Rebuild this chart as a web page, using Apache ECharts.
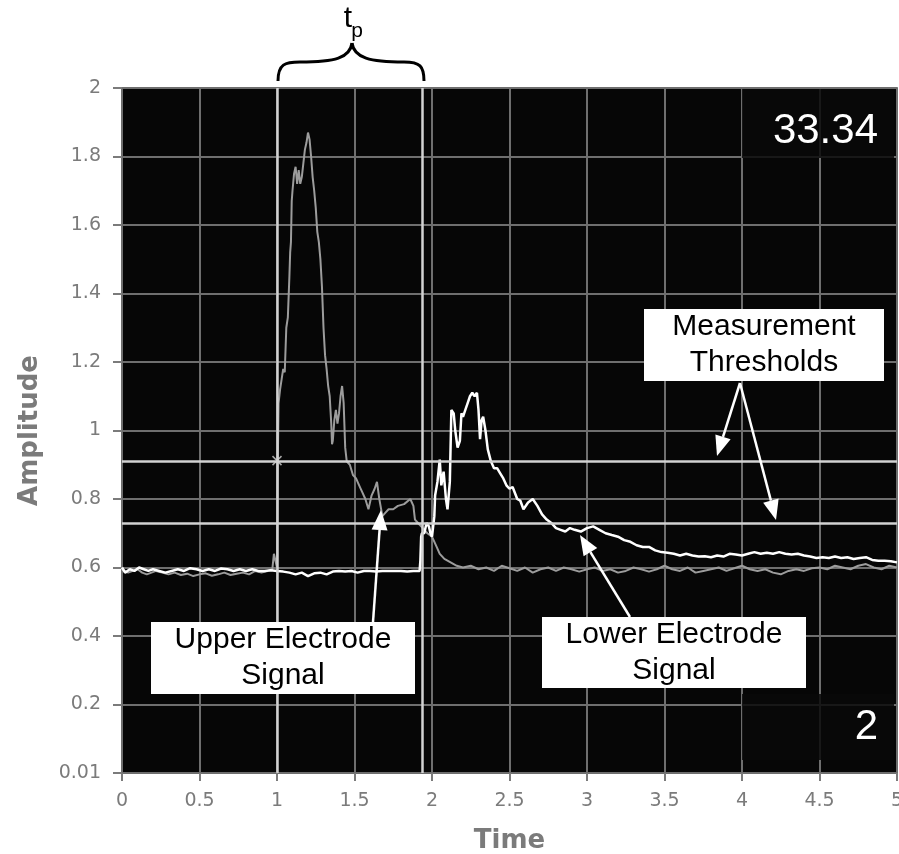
<!DOCTYPE html>
<html>
<head>
<meta charset="utf-8">
<script src="https://cdn.jsdelivr.net/npm/echarts@6/dist/echarts.min.js"></script>
<style>
  html, body { margin: 0; padding: 0; background: #fff; }
  #chart { width: 899px; height: 854px; }
</style>
</head>
<body>
<div id="chart"></div>
<script>
// upper electrode trace [time, amplitude]
const upperSignal = [
  [0, 0.595], [0.02, 0.59], [0.04, 0.585], [0.07, 0.59], [0.10, 0.595], [0.13, 0.585],
  [0.16, 0.58], [0.19, 0.585], [0.22, 0.59], [0.26, 0.585], [0.30, 0.58], [0.34, 0.585],
  [0.38, 0.578], [0.42, 0.582], [0.46, 0.575], [0.50, 0.58], [0.54, 0.583], [0.58, 0.576],
  [0.62, 0.58], [0.66, 0.585], [0.70, 0.578], [0.74, 0.582], [0.78, 0.585], [0.82, 0.58],
  [0.86, 0.59], [0.90, 0.585], [0.94, 0.59], [0.97, 0.595], [0.98, 0.64], [0.99, 0.64],
  [1.00, 0.60], [1.005, 0.9], [1.01, 1.08], [1.02, 1.12], [1.03, 1.15], [1.04, 1.18],
  [1.05, 1.17], [1.06, 1.30], [1.07, 1.33], [1.08, 1.45], [1.085, 1.52], [1.09, 1.55],
  [1.095, 1.67], [1.10, 1.70], [1.11, 1.75], [1.12, 1.77], [1.13, 1.72], [1.14, 1.76],
  [1.15, 1.72], [1.16, 1.74], [1.17, 1.78], [1.18, 1.82], [1.19, 1.84], [1.20, 1.87],
  [1.21, 1.85], [1.22, 1.80], [1.23, 1.74], [1.24, 1.70], [1.25, 1.65], [1.26, 1.58],
  [1.27, 1.55], [1.28, 1.50], [1.29, 1.42], [1.30, 1.30], [1.31, 1.22], [1.32, 1.18],
  [1.33, 1.13], [1.34, 1.10], [1.35, 1.02], [1.355, 0.96], [1.36, 0.97], [1.37, 1.03],
  [1.38, 1.06], [1.39, 1.02], [1.40, 1.05], [1.41, 1.10], [1.42, 1.13], [1.43, 1.08],
  [1.44, 0.95], [1.45, 0.91], [1.47, 0.90], [1.49, 0.87], [1.51, 0.86], [1.53, 0.84],
  [1.55, 0.82], [1.57, 0.80], [1.59, 0.77], [1.61, 0.81], [1.63, 0.83], [1.645, 0.85],
  [1.66, 0.80], [1.68, 0.75], [1.70, 0.76], [1.72, 0.77], [1.75, 0.77], [1.78, 0.78],
  [1.82, 0.785], [1.86, 0.80], [1.88, 0.78], [1.89, 0.74], [1.91, 0.73], [1.93, 0.72],
  [1.95, 0.71], [1.97, 0.70], [2.00, 0.69], [2.03, 0.66], [2.05, 0.64], [2.08, 0.625],
  [2.12, 0.615], [2.16, 0.605], [2.20, 0.60], [2.25, 0.605], [2.30, 0.595], [2.35, 0.60],
  [2.40, 0.59], [2.45, 0.605], [2.50, 0.598], [2.55, 0.59], [2.60, 0.60], [2.65, 0.585],
  [2.70, 0.595], [2.75, 0.60], [2.80, 0.59], [2.85, 0.60], [2.90, 0.595], [2.95, 0.588],
  [3.00, 0.595], [3.05, 0.60], [3.10, 0.59], [3.15, 0.595], [3.20, 0.585], [3.25, 0.59],
  [3.30, 0.60], [3.35, 0.595], [3.40, 0.588], [3.45, 0.595], [3.50, 0.605], [3.55, 0.595],
  [3.60, 0.59], [3.65, 0.60], [3.70, 0.585], [3.75, 0.59], [3.80, 0.595], [3.85, 0.60],
  [3.90, 0.59], [3.95, 0.598], [4.00, 0.605], [4.05, 0.595], [4.10, 0.59], [4.15, 0.595],
  [4.20, 0.585], [4.25, 0.58], [4.30, 0.59], [4.35, 0.595], [4.40, 0.59], [4.45, 0.598],
  [4.50, 0.60], [4.55, 0.595], [4.60, 0.605], [4.65, 0.60], [4.70, 0.595], [4.75, 0.605],
  [4.80, 0.61], [4.85, 0.60], [4.90, 0.595], [4.95, 0.605], [5.00, 0.60]
];

// lower electrode trace [time, amplitude]
const lowerSignal = [
  [0, 0.60], [0.02, 0.585], [0.05, 0.595], [0.08, 0.59], [0.11, 0.60], [0.14, 0.595],
  [0.17, 0.59], [0.20, 0.595], [0.24, 0.59], [0.28, 0.585], [0.32, 0.59], [0.36, 0.595],
  [0.40, 0.59], [0.44, 0.598], [0.48, 0.595], [0.52, 0.59], [0.56, 0.595], [0.60, 0.59],
  [0.64, 0.597], [0.68, 0.595], [0.72, 0.59], [0.76, 0.595], [0.80, 0.59], [0.84, 0.595],
  [0.88, 0.59], [0.92, 0.59], [0.96, 0.592], [1.00, 0.59], [1.04, 0.588], [1.08, 0.585],
  [1.12, 0.58], [1.16, 0.585], [1.20, 0.575], [1.24, 0.583], [1.28, 0.585], [1.32, 0.58],
  [1.36, 0.588], [1.40, 0.59], [1.44, 0.588], [1.48, 0.59], [1.52, 0.585], [1.56, 0.59],
  [1.60, 0.59], [1.64, 0.588], [1.68, 0.59], [1.72, 0.59], [1.76, 0.59], [1.80, 0.59],
  [1.84, 0.588], [1.88, 0.59], [1.92, 0.59], [1.925, 0.62], [1.93, 0.69], [1.935, 0.70],
  [1.95, 0.70], [1.965, 0.73], [1.98, 0.72], [1.99, 0.70], [2.00, 0.69], [2.015, 0.75],
  [2.02, 0.81], [2.035, 0.85], [2.05, 0.915], [2.06, 0.84], [2.075, 0.88], [2.09, 0.80],
  [2.10, 0.77], [2.115, 0.85], [2.125, 1.06], [2.14, 1.05], [2.15, 1.00], [2.165, 0.95],
  [2.18, 0.97], [2.19, 1.05], [2.20, 1.04], [2.215, 1.06], [2.23, 1.08], [2.245, 1.10],
  [2.26, 1.11], [2.275, 1.10], [2.29, 1.11], [2.30, 1.06], [2.31, 0.975], [2.32, 1.03],
  [2.33, 1.04], [2.345, 1.00], [2.36, 0.945], [2.38, 0.91], [2.40, 0.89], [2.42, 0.89],
  [2.44, 0.875], [2.46, 0.86], [2.48, 0.84], [2.50, 0.83], [2.52, 0.835], [2.55, 0.80],
  [2.57, 0.795], [2.59, 0.77], [2.62, 0.79], [2.65, 0.80], [2.68, 0.78], [2.71, 0.755],
  [2.74, 0.74], [2.77, 0.73], [2.80, 0.715], [2.83, 0.71], [2.86, 0.705], [2.89, 0.715],
  [2.92, 0.71], [2.96, 0.705], [3.00, 0.715], [3.04, 0.72], [3.08, 0.71], [3.12, 0.70],
  [3.16, 0.695], [3.20, 0.69], [3.24, 0.68], [3.28, 0.675], [3.32, 0.665], [3.36, 0.66],
  [3.40, 0.66], [3.44, 0.65], [3.48, 0.645], [3.52, 0.643], [3.56, 0.64], [3.60, 0.635],
  [3.64, 0.64], [3.68, 0.635], [3.72, 0.632], [3.76, 0.633], [3.80, 0.63], [3.84, 0.635],
  [3.88, 0.632], [3.92, 0.64], [3.96, 0.638], [4.00, 0.635], [4.04, 0.64], [4.08, 0.645],
  [4.12, 0.64], [4.16, 0.643], [4.20, 0.64], [4.24, 0.645], [4.28, 0.64], [4.32, 0.638],
  [4.36, 0.64], [4.40, 0.635], [4.44, 0.632], [4.48, 0.628], [4.52, 0.63], [4.56, 0.628],
  [4.60, 0.632], [4.64, 0.628], [4.68, 0.63], [4.72, 0.625], [4.76, 0.628], [4.80, 0.63],
  [4.84, 0.622], [4.88, 0.62], [4.92, 0.62], [4.96, 0.618], [5.00, 0.615]
];

const thresholds = [0.912, 0.731];     // horizontal measurement thresholds
const cursorTimes = [1.0, 1.94];       // vertical cursors bounding t_p
const crossing = [[1.0, 0.912]];       // x marker where upper signal crosses
const topValue = '33.34';
const bottomValue = '2';
const yBottomLabel = '0.01';

const chart = echarts.init(document.getElementById('chart'));

const tickFont = { color: '#7b7b7b', fontSize: 19, fontFamily: 'DejaVu Sans' };
const nameFont = { color: '#7b7b7b', fontSize: 26, fontWeight: 'bold', fontFamily: 'DejaVu Sans' };
const annoFont = '30px "Liberation Sans", Arial, sans-serif';

// arrow = shaft + filled head
function arrow(x1, y1, x2, y2) {
  const dx = x2 - x1, dy = y2 - y1;
  const len = Math.sqrt(dx * dx + dy * dy);
  const ux = dx / len, uy = dy / len;
  const L = 20, W = 8;
  const bx = x2 - ux * L, by = y2 - uy * L;
  return [
    { type: 'line', z: 100, shape: { x1: x1, y1: y1, x2: bx, y2: by },
      style: { stroke: '#fff', lineWidth: 2.5 } },
    { type: 'polygon', z: 100,
      shape: { points: [[x2, y2], [bx - uy * W, by + ux * W], [bx + uy * W, by - ux * W]] },
      style: { fill: '#fff' } }
  ];
}

function labelBox(x, y, w, h, lines) {
  const els = [{ type: 'rect', z: 100, shape: { x: x, y: y, width: w, height: h }, style: { fill: '#fff' } }];
  lines.forEach((t, i) => {
    els.push({ type: 'text', z: 101, x: x + w / 2, y: y + 18 + i * 36,
      style: { text: t, font: annoFont, fill: '#000', textAlign: 'center', textVerticalAlign: 'middle' } });
  });
  return els;
}

let graphics = [
  // readout boxes
  { type: 'rect', z: 90, shape: { x: 742, y: 89, width: 152, height: 69 }, style: { fill: 'rgba(9,9,9,0.85)' } },
  { type: 'text', z: 91, x: 878, y: 131,
    style: { text: topValue, font: '42px "Liberation Sans", sans-serif', fill: '#fff', textAlign: 'right', textVerticalAlign: 'middle' } },
  { type: 'rect', z: 90, shape: { x: 742, y: 694, width: 152, height: 66 }, style: { fill: 'rgba(9,9,9,0.85)' } },
  { type: 'text', z: 91, x: 878, y: 727,
    style: { text: bottomValue, font: '42px "Liberation Sans", sans-serif', fill: '#fff', textAlign: 'right', textVerticalAlign: 'middle' } },
  // brace for t_p
  { type: 'bezierCurve', z: 100, shape: { x1: 278, y1: 81, cpx1: 278, cpy1: 64, x2: 300, y2: 62, cpx2: 285, cpy2: 62 }, style: { stroke: '#000', lineWidth: 3, fill: null } },
  { type: 'bezierCurve', z: 100, shape: { x1: 300, y1: 62, cpx1: 335, cpy1: 62, x2: 352, y2: 43, cpx2: 350, cpy2: 58 }, style: { stroke: '#000', lineWidth: 3, fill: null } },
  { type: 'bezierCurve', z: 100, shape: { x1: 352, y1: 43, cpx1: 354, cpy1: 58, x2: 404, y2: 62, cpx2: 370, cpy2: 62 }, style: { stroke: '#000', lineWidth: 3, fill: null } },
  { type: 'bezierCurve', z: 100, shape: { x1: 404, y1: 62, cpx1: 420, cpy1: 62, x2: 424, y2: 81, cpx2: 424, cpy2: 66 }, style: { stroke: '#000', lineWidth: 3, fill: null } },
  { type: 'text', z: 100, x: 348, y: 34, style: { text: 't', font: '30px "Liberation Sans", sans-serif', fill: '#000', textAlign: 'center', textVerticalAlign: 'bottom' } },
  { type: 'text', z: 100, x: 357, y: 42, style: { text: 'p', font: '21px "Liberation Sans", sans-serif', fill: '#000', textAlign: 'center', textVerticalAlign: 'bottom' } }
];
graphics = graphics
  .concat(labelBox(644, 309, 240, 72, ['Measurement', 'Thresholds']))
  .concat(labelBox(151, 622, 264, 72, ['Upper Electrode', 'Signal']))
  .concat(labelBox(542, 617, 264, 71, ['Lower Electrode', 'Signal']))
  .concat(arrow(740, 383, 717, 456))
  .concat(arrow(740, 383, 776, 520))
  .concat(arrow(373, 622, 381, 510))
  .concat(arrow(630, 617, 580, 535));

const option = {
  animation: false,
  backgroundColor: '#fff',
  grid: {
    left: 122, right: 2, top: 88, bottom: 81,
    outerBoundsMode: 'none',
    show: true, backgroundColor: '#060606', borderColor: '#8a8a8a', borderWidth: 2
  },
  xAxis: {
    type: 'value', min: 0, max: 5, interval: 0.5, offset: 5,
    name: 'Time', nameLocation: 'middle', nameGap: 50, nameTextStyle: nameFont,
    axisLine: { show: false },
    axisTick: { show: true, length: 8, lineStyle: { color: '#7b7b7b', width: 2 } },
    axisLabel: Object.assign({ margin: 14 }, tickFont),
    splitLine: { show: true, lineStyle: { color: '#6e6e6e', width: 2 } }
  },
  yAxis: {
    type: 'value', min: 0, max: 2, interval: 0.2, offset: 7,
    name: 'Amplitude', nameLocation: 'middle', nameGap: 72, nameRotate: 90, nameTextStyle: nameFont,
    axisLine: { show: false },
    axisTick: { show: true, length: 9, lineStyle: { color: '#7b7b7b', width: 2 } },
    axisLabel: Object.assign({
      margin: 14,
      formatter: v => (v === 0 ? yBottomLabel : String(v))
    }, tickFont),
    splitLine: { show: true, lineStyle: { color: '#6e6e6e', width: 2 } }
  },
  series: [
    {
      name: 'Upper Electrode Signal', type: 'line', data: upperSignal,
      symbol: 'none', lineStyle: { color: '#9c9c9c', width: 2 }, z: 3,
      markLine: {
        silent: true, symbol: 'none', label: { show: false },
        lineStyle: { color: '#d2d2d2', width: 2.5, type: 'solid' },
        data: thresholds.map(v => ({ yAxis: v })).concat(cursorTimes.map(v => ({ xAxis: v })))
      }
    },
    {
      name: 'Lower Electrode Signal', type: 'line', data: lowerSignal,
      symbol: 'none', lineStyle: { color: '#ffffff', width: 2.5 }, z: 4
    },
    {
      name: 'crossing', type: 'scatter', data: crossing, z: 5,
      symbol: 'path://M0,0L10,10M10,0L0,10', symbolSize: 9,
      itemStyle: { color: 'none', borderColor: '#d2d2d2', borderWidth: 1.5 }
    }
  ],
  graphic: graphics
};

chart.setOption(option);
</script>
</body>
</html>
